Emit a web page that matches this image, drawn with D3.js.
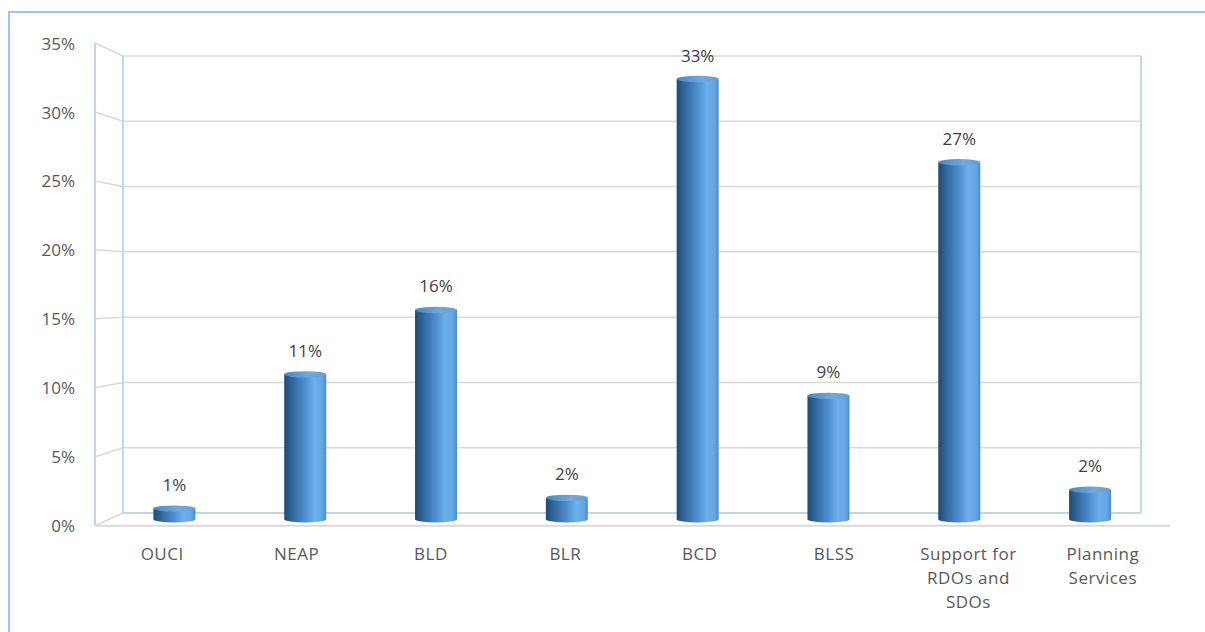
<!DOCTYPE html>
<html>
<head>
<meta charset="utf-8">
<script src="https://cdn.jsdelivr.net/npm/d3@7"></script>
<style>
  body { margin: 0; background: #fff; }
  text { font-family: "Open Sans", sans-serif; }
</style>
</head>
<body>
<div id="chart"></div>
<script>
// Declare constants
const FRAME_WIDTH = 1205;
const FRAME_HEIGHT = 632;

// data
const categories = ["OUCI", "NEAP", "BLD", "BLR", "BCD", "BLSS", "Support for RDOs and SDOs", "Planning Services"];
const categoryLines = [["OUCI"], ["NEAP"], ["BLD"], ["BLR"], ["BCD"], ["BLSS"], ["Support for", "RDOs and", "SDOs"], ["Planning", "Services"]];
const shares = [0.008, 0.108, 0.156, 0.016, 0.328, 0.092, 0.266, 0.022];
const ticks = [0, 0.05, 0.10, 0.15, 0.20, 0.25, 0.30, 0.35];

// 3d box: front plane and back wall
const FRONT = {left: 95, right: 1170, bottom: 525.7, top: 43};
const BACK = {left: 123, right: 1141, bottom: 513, top: 56};

const yFront = d3.scaleLinear().domain([0, 0.35]).range([FRONT.bottom, FRONT.top]);
const yBack = d3.scaleLinear().domain([0, 0.35]).range([BACK.bottom, BACK.top]);
// bars stand half way between front and back
const yMid = d3.scaleLinear().domain([0, 0.35])
  .range([(FRONT.bottom + BACK.bottom) / 2, (FRONT.top + BACK.top) / 2]);

const xMid = d3.scaleBand().domain(categories)
  .range([(FRONT.left + BACK.left) / 2, (FRONT.right + BACK.right) / 2]);
const xFront = d3.scaleBand().domain(categories).range([FRONT.left, FRONT.right]);

const svg = d3.select("#chart")
  .append("svg")
    .attr("width", FRAME_WIDTH)
    .attr("height", FRAME_HEIGHT);

const defs = svg.append("defs");

const bodyGrad = defs.append("linearGradient").attr("id", "cylBody")
  .attr("x1", "0%").attr("x2", "100%").attr("y1", "0%").attr("y2", "0%");
[[0, "#1f4a73"], [0.2, "#32689e"], [0.5, "#4f8fcf"], [0.72, "#6cb0ec"], [0.9, "#64a6e3"], [1, "#4d8bc8"]]
  .forEach(s => bodyGrad.append("stop").attr("offset", s[0]).attr("stop-color", s[1]));

const topGrad = defs.append("linearGradient").attr("id", "cylTop")
  .attr("x1", "0%").attr("x2", "100%").attr("y1", "0%").attr("y2", "0%");
[[0, "#4a86c2"], [0.6, "#6fa9e0"], [1, "#669fd6"]]
  .forEach(s => topGrad.append("stop").attr("offset", s[0]).attr("stop-color", s[1]));

// outer chart border
svg.append("path")
  .attr("d", `M9,${FRAME_HEIGHT} L9,12 L${FRAME_WIDTH},12`)
  .attr("fill", "none")
  .attr("stroke", "#9dc3e6")
  .attr("stroke-width", 2);

const GRID = "#d9d9d9";
const EDGE = "#bdd7ee";

// gridlines on back wall
svg.selectAll(".grid")
  .data(ticks.slice(1))
  .join("line")
    .attr("class", "grid")
    .attr("x1", BACK.left).attr("x2", BACK.right)
    .attr("y1", d => yBack(d)).attr("y2", d => yBack(d))
    .attr("stroke", GRID)
    .attr("stroke-width", 1.5);

// slanted lines on the side wall
svg.selectAll(".side")
  .data(ticks)
  .join("line")
    .attr("class", "side")
    .attr("x1", FRONT.left).attr("x2", BACK.left)
    .attr("y1", d => yFront(d)).attr("y2", d => yBack(d))
    .attr("stroke", GRID)
    .attr("stroke-width", 1.5);

// wall edges
svg.append("line")
  .attr("x1", BACK.left).attr("x2", BACK.left)
  .attr("y1", yBack(0.35)).attr("y2", yBack(0))
  .attr("stroke", EDGE).attr("stroke-width", 2);
svg.append("line")
  .attr("x1", BACK.right).attr("x2", BACK.right)
  .attr("y1", yBack(0.35)).attr("y2", yBack(0))
  .attr("stroke", EDGE).attr("stroke-width", 2);
svg.append("line")
  .attr("x1", BACK.left).attr("x2", BACK.right)
  .attr("y1", yBack(0)).attr("y2", yBack(0))
  .attr("stroke", EDGE).attr("stroke-width", 2);
svg.append("line")
  .attr("x1", FRONT.left).attr("x2", FRONT.left)
  .attr("y1", yFront(0.35)).attr("y2", yFront(0))
  .attr("stroke", EDGE).attr("stroke-width", 2);
svg.append("line")
  .attr("x1", FRONT.left).attr("x2", FRONT.right)
  .attr("y1", yFront(0)).attr("y2", yFront(0))
  .attr("stroke", GRID).attr("stroke-width", 2);

// y tick labels
svg.selectAll(".tick-label")
  .data(ticks)
  .join("text")
    .attr("class", "tick-label")
    .attr("x", 75)
    .attr("y", d => yFront(d) + 2)
    .attr("text-anchor", "end")
    .attr("dominant-baseline", "middle")
    .attr("font-size", 17)
    .attr("fill", "#595959")
    .text(d3.format(".0%"));

// cylinders
const RX = 21;
const RY = 3.2;

const bars = svg.selectAll(".bar")
  .data(categories.map((c, i) => ({cat: c, v: shares[i]})))
  .join("g")
    .attr("class", "bar");

bars.append("path")
  .attr("d", d => {
    const cx = xMid(d.cat) + xMid.bandwidth() / 2;
    const yb = yMid(0), yt = yMid(d.v);
    return `M${cx - RX},${yt} L${cx - RX},${yb} A${RX},${RY} 0 0 0 ${cx + RX},${yb} L${cx + RX},${yt} Z`;
  })
  .attr("fill", "url(#cylBody)");

bars.append("ellipse")
  .attr("cx", d => xMid(d.cat) + xMid.bandwidth() / 2)
  .attr("cy", d => yMid(d.v))
  .attr("rx", RX)
  .attr("ry", RY)
  .attr("fill", "url(#cylTop)");

// data labels
bars.append("text")
  .attr("x", d => xMid(d.cat) + xMid.bandwidth() / 2)
  .attr("y", d => yMid(d.v) - 22)
  .attr("text-anchor", "middle")
  .attr("dominant-baseline", "middle")
  .attr("font-size", 17)
  .attr("fill", "#404040")
  .text(d => d3.format(".0%")(d.v));

// category labels on the front plane
svg.selectAll(".cat-label")
  .data(categories)
  .join("text")
    .attr("class", "cat-label")
    .attr("x", d => xFront(d) + xFront.bandwidth() / 2)
    .attr("y", 555)
    .attr("text-anchor", "middle")
    .attr("dominant-baseline", "middle")
    .attr("font-size", 17)
    .attr("letter-spacing", 0.5)
    .attr("fill", "#595959")
    .each(function(d, i) {
      d3.select(this).selectAll("tspan")
        .data(categoryLines[i])
        .join("tspan")
          .attr("x", xFront(d) + xFront.bandwidth() / 2)
          .attr("dy", (l, j) => j === 0 ? 0 : 24)
          .text(l => l);
    });
</script>
</body>
</html>
